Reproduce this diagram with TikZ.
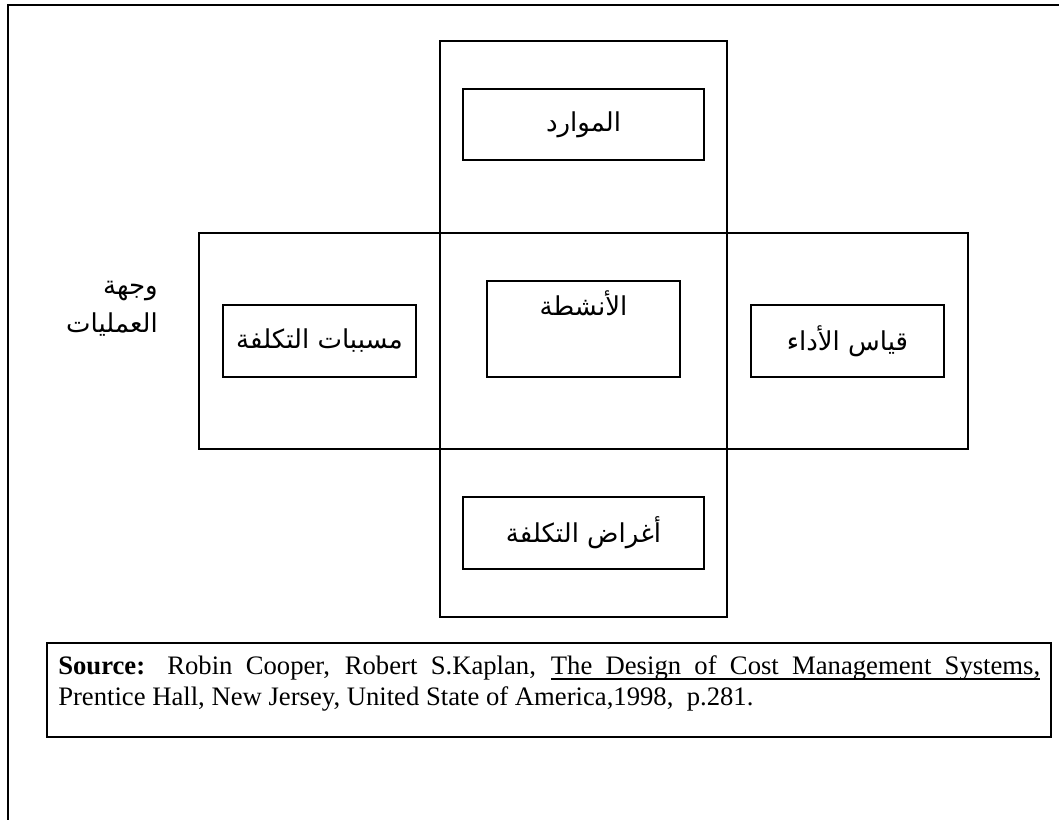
\documentclass[tikz,border=0pt]{standalone}
\usepackage{fontspec}
\setmainfont{Liberation Serif}
\newfontfamily\arabicfont[Script=Arabic]{DejaVu Sans}
\usepackage{tikz}
\usetikzlibrary{positioning}
\TeXXeTstate=1
% underlined word and underlined stretchable space
\newcommand\ulw[1]{\leavevmode\setbox0\hbox{#1}\rlap{\vrule height -3pt depth 4.4pt width \wd0}\box0}
\newcommand\uls{\leaders\hrule height -3pt depth 4.4pt\hskip\fontdimen2\font plus\fontdimen3\font minus\fontdimen4\font}

\begin{document}
\begin{tikzpicture}[
    x=0.75pt, y=-0.75pt,
    frame/.style={draw=black, line width=1.5pt},
    bar/.style={rectangle, draw=black, line width=1.2pt, inner sep=0pt},
    wide/.style={rectangle, draw=black, line width=1.2pt, minimum width=180.75pt, minimum height=53.25pt, font=\arabicfont\fontsize{19.5}{24}\selectfont},
    narrow/.style={wide, minimum width=144.75pt, minimum height=54pt},
    artext/.style={font=\arabicfont\fontsize{19.5}{28.5}\selectfont, align=right, inner sep=0pt},
    srcbox/.style={rectangle, draw=black, line width=1.2pt, minimum width=753pt, minimum height=70.5pt, inner sep=0pt},
    srctext/.style={text width=736.5pt, align=justify, inner sep=0pt, font=\fontsize{20}{23.5}\selectfont}
]
    \useasboundingbox (0,0) rectangle (1059,820);
    \clip (0,0) rectangle (1059,820);

    % outer frame (runs off the page on the right and at the bottom)
    \draw[frame] (8,5) rectangle (1090,850);

    % the cross
    \node[bar, minimum width=215.25pt, minimum height=432pt] (vbar) at (583.5,329) {};
    \node[bar, minimum width=576.75pt, minimum height=162pt] (hbar) at (583.5,341) {};

    % boxes
    \node[wide] (res) at (583.5,124.5) {\beginR الموارد\endR};
    \node[narrow, minimum height=72pt, label={[artext, anchor=north, yshift=-8pt]north:\beginR الأنشطة\endR}] (act) at (583.5,329) {};
    \node[narrow] (drv) at (319.5,341) {\beginR مسببات التكلفة\endR};
    \node[narrow] (perf) at (847.5,341) {\beginR قياس الأداء\endR};
    \node[wide, minimum height=54pt] (obj) at (583.5,533) {\beginR أغراض التكلفة\endR};

    % side title
    \node[artext, anchor=east] (view) at (158,309) {\beginR وجهة\endR\\\beginR العمليات\endR};

    % source
    \node[srcbox, anchor=north west] (src) at (46,642) {};
    \node[srctext, anchor=north west] (cite) at ([shift={(12,13)}]src.north west) {\textbf{Source:} Robin Cooper, Robert S.Kaplan, \ulw{The}\uls\ulw{Design}\uls\ulw{of}\uls\ulw{Cost}\uls\ulw{Management}\uls\ulw{Systems,}\linebreak Prentice Hall, New Jersey, United State of America,1998,~~p.281.};
\end{tikzpicture}
\end{document}
